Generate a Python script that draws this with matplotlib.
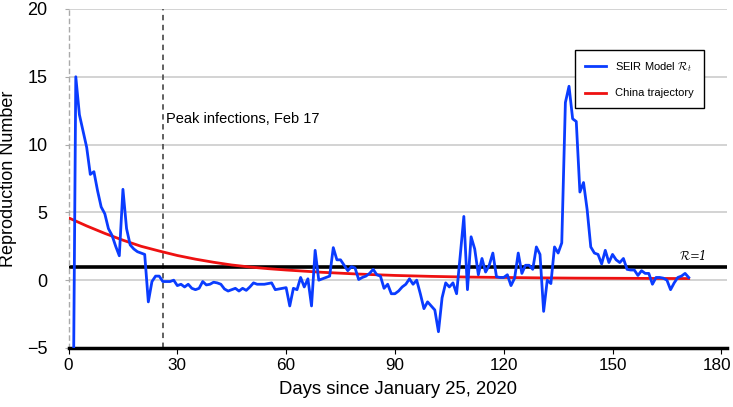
import numpy as np
import matplotlib
matplotlib.use("Agg")
import matplotlib.pyplot as plt
from matplotlib.transforms import ScaledTranslation

plt.rcParams['font.family'] = ['Liberation Sans', 'DejaVu Sans']
plt.rcParams['mathtext.fontset'] = 'cm'

# SEIR model Rt, one value per day starting at day 1
seir_days = list(range(1, 172))
seir_rt = [
    -20, 15.0, 12.2, 11.0, 9.8, 7.8, 8.0, 6.6, 5.4, 4.9,
    3.8, 3.3, 2.5, 1.8, 6.7, 3.8, 2.6, 2.3, 2.1, 2.0,
    1.9, -1.6, -0.1, 0.3, 0.3, -0.1, -0.1, -0.1, 0.0, -0.4,
    -0.3, -0.5, -0.3, -0.6, -0.7, -0.6, -0.1, -0.35, -0.3, -0.15,
    -0.2, -0.3, -0.65, -0.8, -0.7, -0.6, -0.8, -0.6, -0.75, -0.5,
    -0.2, -0.3, -0.3, -0.3, -0.25, -0.2, -0.7, -0.65, -0.6, -0.55,
    -1.9, -0.6, -0.7, 0.2, -0.5, 0.1, -1.9, 2.2, 0.0, 0.1,
    0.2, 0.3, 2.4, 1.5, 1.5, 1.1, 0.7, 1.0, 0.9, 0.05,
    0.2, 0.3, 0.5, 0.8, 0.4, 0.3, -0.6, -0.3, -1.0, -1.0,
    -0.8, -0.5, -0.3, 0.1, -0.3, 0.0, -1.0, -2.1, -1.6, -1.9,
    -2.2, -3.8, -1.3, -0.2, -0.5, -0.2, -1.0, 1.8, 4.7, -0.7,
    3.2, 2.3, 0.4, 1.6, 0.6, 1.1, 2.0, 0.25, 0.2, 0.2,
    0.4, -0.4, 0.15, 2.0, 0.5, 1.1, 1.1, 0.8, 2.45, 1.9,
    -2.3, 0.0, -0.25, 2.45, 2.0, 2.75, 13.1, 14.3, 11.9, 11.7,
    6.5, 7.2, 5.2, 2.45, 2.0, 1.9, 1.2, 2.2, 1.3, 1.9,
    1.5, 1.3, 1.6, 0.8, 0.75, 0.75, 0.35, 0.7, 0.5, 0.5,
    -0.3, 0.2, 0.2, 0.15, 0.0, -0.7, -0.2, 0.2, 0.3, 0.5,
    0.2,
]

# China trajectory
china_days = [0, 5, 10, 15, 20, 25, 30, 35, 40, 45, 50, 55, 60, 70, 80,
              90, 100, 110, 120, 130, 140, 150, 160, 171]
china_rt = [4.6, 4.0, 3.45, 2.95, 2.5, 2.15, 1.82, 1.55, 1.32, 1.12, 0.97,
            0.85, 0.75, 0.58, 0.45, 0.35, 0.28, 0.23, 0.2, 0.17, 0.15, 0.14,
            0.13, 0.12]

peak_day = 26
xticks = [0, 30, 60, 90, 120, 150, 180]
yticks = [-5, 0, 5, 10, 15, 20]

fig = plt.figure(figsize=(7.33, 4.07), dpi=100)
ax = fig.add_axes([0.0935, 0.145, 0.8985, 0.833])

for yv in yticks[1:]:
    ax.axhline(yv, color='#c8c8c8', lw=1.1, zorder=0)

ax.axvline(peak_day, color='#555555', ls=(0, (3, 2.5)), lw=1.3, zorder=1)
ax.axhline(1, color='black', lw=2.6, zorder=2)

ax.plot(seir_days, seir_rt, color='#0a3cff', lw=2, label=r'SEIR Model $\mathcal{R}_t$', zorder=4)
ax.plot(china_days, china_rt, color='#ee1111', lw=2, label='China trajectory', zorder=3)

ax.text(peak_day + 1, 11.9, 'Peak infections, Feb 17', fontsize=10.5, va='center')
ax.text(172, 1.3, r'$\mathcal{R}$=1', fontsize=8.5, ha='center', va='bottom',
        fontstyle='italic', family='DejaVu Serif')

ax.set_xlim(0, 181.6)
ax.set_ylim(-5, 20)
ax.set_xticks(xticks)
ax.set_yticks(yticks)
ax.tick_params(axis='y', labelsize=13, color='#aaaaaa', length=3, pad=12)
ax.tick_params(axis='x', labelsize=12.3, length=4, pad=3)

# keep the last x label inside the picture
last = ax.get_xticklabels()[-1]
last.set_transform(last.get_transform() + ScaledTranslation(-4 / 100, 0, fig.dpi_scale_trans))

for s in ['top', 'right']:
    ax.spines[s].set_visible(False)
ax.spines['left'].set_linestyle((0, (3, 3)))
ax.spines['left'].set_color('#aaaaaa')
ax.spines['left'].set_linewidth(1)
ax.spines['bottom'].set_linewidth(2.5)
ax.spines['bottom'].set_color('black')

ax.set_xlabel('Days since January 25, 2020', fontsize=13.3, labelpad=6)
ax.set_ylabel('Reproduction Number', fontsize=13)
ax.yaxis.set_label_coords(-0.078, 0.5)

leg = ax.legend(loc='upper right', bbox_to_anchor=(0.973, 0.895), fontsize=8,
                fancybox=False, edgecolor='black', framealpha=1,
                handlelength=1.9, borderpad=0.9, labelspacing=1.3)
leg.get_frame().set_linewidth(1)

fig.savefig('out.png', dpi=100)
